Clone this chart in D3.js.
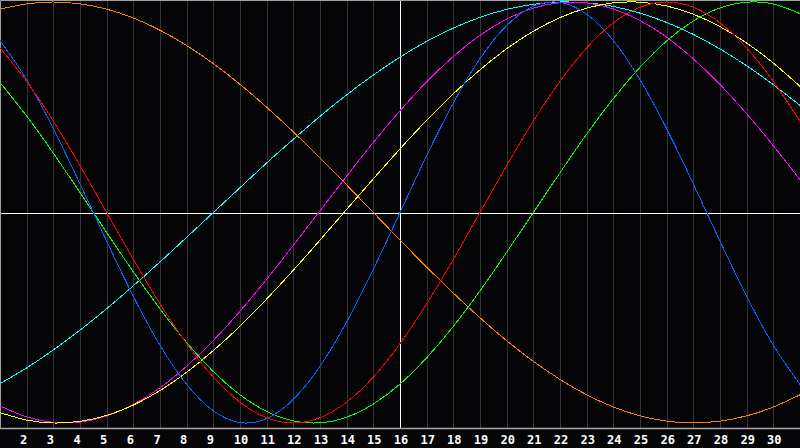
<!DOCTYPE html>
<html>
<head>
<meta charset="utf-8">
<script src="https://cdn.jsdelivr.net/npm/d3@7"></script>
<style>
  html, body { margin: 0; padding: 0; background: #050508; }
  svg { display: block; }
  .tick-label { font-family: "DejaVu Sans Mono", monospace; font-weight: bold; font-size: 12px; fill: #ffffff; }
</style>
</head>
<body>
<div class="chart"></div>
<script>
// -----------------------------------------------------------------------
// Data (one per day, -1 .. 1)
// -----------------------------------------------------------------------

const DAYS = d3.range(1, 32);
const TICK_DAYS = d3.range(2, 31);
const TODAY = 16;

const orange = [0.966, 0.991, 1.000, 0.991, 0.966, 0.924, 0.866, 0.793, 0.707, 0.609, 0.500, 0.383, 0.259, 0.131, 0.000, -0.131,
  -0.259, -0.383, -0.500, -0.609, -0.707, -0.793, -0.866, -0.924, -0.966, -0.991, -1.000, -0.991, -0.966, -0.924, -0.866];
const cyan = [-0.813, -0.738, -0.653, -0.559, -0.457, -0.348, -0.235, -0.118, 0.000, 0.118, 0.235, 0.348, 0.457, 0.559, 0.653, 0.738,
  0.813, 0.876, 0.927, 0.965, 0.989, 1.000, 0.996, 0.979, 0.947, 0.903, 0.846, 0.777, 0.697, 0.607, 0.509];
const magenta = [-0.919, -0.971, -0.997, -0.996, -0.967, -0.912, -0.833, -0.730, -0.608, -0.469, -0.317, -0.156, 0.008, 0.173, 0.333, 0.483,
  0.621, 0.741, 0.842, 0.919, 0.971, 0.997, 0.996, 0.967, 0.912, 0.833, 0.730, 0.608, 0.469, 0.317, 0.156];
const yellow = [-0.951, -0.986, -1.000, -0.992, -0.964, -0.915, -0.846, -0.759, -0.656, -0.540, -0.411, -0.274, -0.131, 0.015, 0.160, 0.302,
  0.438, 0.564, 0.678, 0.778, 0.861, 0.926, 0.971, 0.996, 0.999, 0.981, 0.942, 0.883, 0.805, 0.710, 0.599];
const green = [0.618, 0.458, 0.282, 0.095, -0.095, -0.282, -0.458, -0.618, -0.756, -0.866, -0.945, -0.990, -0.999, -0.972, -0.910, -0.815,
  -0.690, -0.541, -0.372, -0.189, 0.000, 0.189, 0.372, 0.541, 0.690, 0.815, 0.910, 0.972, 0.999, 0.990, 0.945];
const red = [0.782, 0.623, 0.434, 0.223, 0.000, -0.223, -0.434, -0.623, -0.782, -0.901, -0.975, -1.000, -0.975, -0.901, -0.782, -0.623,
  -0.434, -0.223, 0.000, 0.223, 0.434, 0.623, 0.782, 0.901, 0.975, 1.000, 0.975, 0.901, 0.782, 0.623, 0.434];
const blue = [0.817, 0.631, 0.398, 0.136, -0.136, -0.398, -0.631, -0.817, -0.942, -0.998, -0.979, -0.888, -0.731, -0.520, -0.270, 0.000,
  0.270, 0.520, 0.731, 0.888, 0.979, 0.998, 0.942, 0.817, 0.631, 0.398, 0.136, -0.136, -0.398, -0.631, -0.817];

// drawing order, bottom first
const SERIES = [
  { name: "cyan", values: cyan, color: "#00ffff" },
  { name: "magenta", values: magenta, color: "#ff00ff" },
  { name: "orange", values: orange, color: "#ff8000" },
  { name: "yellow", values: yellow, color: "#ffff00" },
  { name: "green", values: green, color: "#00ff00" },
  { name: "blue", values: blue, color: "#0066ff" },
  { name: "red", values: red, color: "#ff0000" },
];

// -----------------------------------------------------------------------
// Layout
// -----------------------------------------------------------------------

const WIDTH = 800;
const HEIGHT = 448;
const AXIS_Y = 428.5;

const svg = d3.select(".chart")
  .append("svg")
  .attr("width", WIDTH)
  .attr("height", HEIGHT);

svg.append("rect")
  .attr("width", WIDTH)
  .attr("height", HEIGHT)
  .attr("fill", "#050508");

const xScale = d3.scaleLinear().domain([1, 31]).range([0, WIDTH]);
const yScale = d3.scaleLinear().domain([-1, 1]).range([423, 2]);

// day grid
svg.append("g")
  .selectAll("line")
  .data(TICK_DAYS)
  .join("line")
  .attr("x1", d => Math.round(xScale(d)) + 0.5)
  .attr("x2", d => Math.round(xScale(d)) + 0.5)
  .attr("y1", 0)
  .attr("y2", AXIS_Y)
  .attr("stroke", d => d === TODAY ? "#ffffff" : "#353535")
  .attr("stroke-width", 1);

// zero line
svg.append("line")
  .attr("x1", 0)
  .attr("x2", WIDTH)
  .attr("y1", Math.round(yScale(0)) + 0.5)
  .attr("y2", Math.round(yScale(0)) + 0.5)
  .attr("stroke", "#ffffff")
  .attr("stroke-width", 1.2);

// frame: top, left, bottom
svg.append("path")
  .attr("d", `M0.5,${AXIS_Y} V0.5 H${WIDTH}`)
  .attr("fill", "none")
  .attr("stroke", "#a0a0a0");
svg.append("line")
  .attr("x1", 0)
  .attr("x2", WIDTH)
  .attr("y1", AXIS_Y)
  .attr("y2", AXIS_Y)
  .attr("stroke", "#a8a8a8")
  .attr("stroke-width", 1.5);

// curves
const line = d3.line()
  .x((v, i) => xScale(DAYS[i]))
  .y(v => yScale(v))
  .curve(d3.curveNatural);

svg.append("g")
  .selectAll("path")
  .data(SERIES)
  .join("path")
  .attr("d", d => line(d.values))
  .attr("fill", "none")
  .attr("stroke", d => d.color)
  .attr("stroke-width", 1)
  .attr("shape-rendering", "crispEdges");

// x labels (single digits sit a little left of their grid line)
svg.append("g")
  .selectAll("text")
  .data(TICK_DAYS)
  .join("text")
  .attr("class", "tick-label")
  .attr("x", d => xScale(d) + (d < 10 ? -3 : 1))
  .attr("y", 443.5)
  .attr("text-anchor", "middle")
  .text(d => d);
</script>
</body>
</html>
